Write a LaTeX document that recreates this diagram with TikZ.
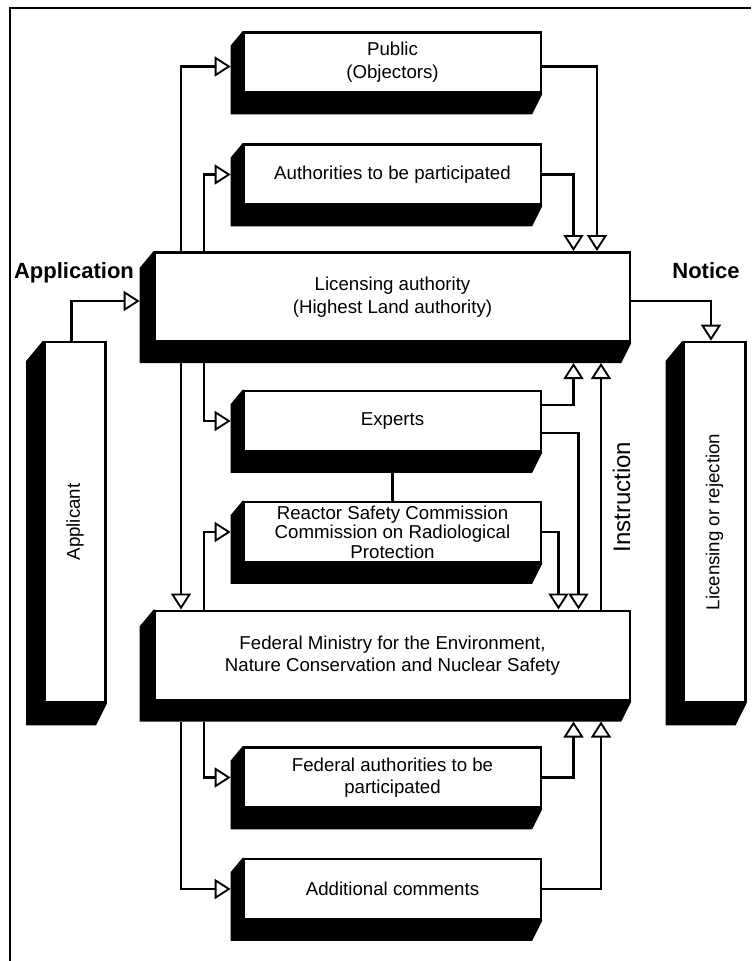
\documentclass[tikz,border=0pt]{standalone}
\usepackage{fontspec}
\setmainfont{Liberation Sans}
\usetikzlibrary{arrows.meta}
\usetikzlibrary{backgrounds}
\usetikzlibrary{calc}
\newcommand{\boxfont}{\fontsize{14}{17}\selectfont}
% shadow of a box: node, left depth, bottom depth
\newcommand{\shadowof}[3]{%
  \fill (#1.north west) -- ++(-#2,1.2*#2) -- ($(#1.south west)+(-#2,#3)$) -- ($(#1.south east)+(-0.5*#3,#3)$) -- (#1.south east) -- cycle;
  \coordinate (#1-l) at ($(#1.west)+(-#2,0)$);
  \coordinate (#1-b) at ($(#1.south)+(0,#3)$);
}

\begin{document}
\begin{tikzpicture}[x=0.75pt,y=0.75pt,yscale=-1,xscale=1,
  box/.style={draw, fill=white, line width=2pt, inner sep=0pt, align=center, font=\boxfont},
  smallbox/.style={box, minimum width=222.75pt, minimum height=45pt},
  widebox/.style={box, minimum width=356.25pt, minimum height=67pt},
  tallbox/.style={box, minimum width=46pt, minimum height=270pt},
  flow/.style={line width=2.1pt, -{Triangle[open, length=12pt, width=15pt, line width=1.4pt]}},
  link/.style={line width=2.1pt},
  heading/.style={font=\fontsize{16.5}{20}\selectfont\bfseries}]
\useasboundingbox (0,0) rectangle (751,961);

%Frame
\draw [line width=1.5pt] (9.5,961) -- (9.5,7.5) -- (751,7.5);

%Lanes for the connectors
\coordinate (laneL1) at (181,0);
\coordinate (laneL2) at (204,0);
\coordinate (laneR1) at (558.5,0);
\coordinate (laneR2) at (573.5,0);
\coordinate (laneR3) at (578.5,0);
\coordinate (laneR4) at (597,0);
\coordinate (laneR5) at (601,0);

% Boxes
\node [smallbox] (public) at (392.5,62.5) {Public\\(Objectors)};
\node [smallbox] (authp) at (392.5,174.5) {Authorities to be participated};
\node [widebox] (licensing) at (392.5,297) {Licensing authority\\(Highest Land authority)};
\node [tallbox] (applicant) at (75,522) {};
\node [tallbox] (decision) at (714.5,522) {};
\node [smallbox] (experts) at (392.5,421) {Experts};
\node [smallbox, font=\fontsize{14}{14.6}\selectfont] (rsk) at (392.5,532) {Reactor Safety Commission\\Commission on Radiological\\Protection};
\node [widebox] (bmu) at (392.5,655.5) {Federal Ministry for the Environment,\\Nature Conservation and Nuclear Safety};
\node [smallbox] (fedauth) at (392.5,777.5) {Federal authorities to be\\participated};
\node [smallbox] (comments) at (392.5,889) {Additional comments};

% Text Node
\node [rotate=90, font=\boxfont] (applicant-text) at (applicant) {Applicant};
\node [rotate=90, font=\boxfont] (decision-text) at (decision) {Licensing or rejection};
\node [heading] (application-text) at (74,273) {Application};
\node [heading] (notice-text) at (706,271) {Notice};
\node [rotate=90, font=\fontsize{18}{21}\selectfont] (instruction-text) at (621.5,497) {Instruction};

% Shadows
\begin{scope}[on background layer]
\shadowof{public}{12}{20.5}
\shadowof{authp}{12}{20.5}
\shadowof{licensing}{14}{20}
\shadowof{applicant}{17}{22}
\shadowof{decision}{17}{22}
\shadowof{experts}{12}{20.5}
\shadowof{rsk}{12}{20.5}
\shadowof{bmu}{14}{20}
\shadowof{fedauth}{12}{20.5}
\shadowof{comments}{12}{20.5}
\end{scope}

% Connectors
\draw [flow] ($(applicant.north)+(-3.3,0)$) |- ($(licensing-l)+(0,4)$);
\draw [flow] ($(licensing.east)+(0,4)$) -| ($(decision.north)+(-3.5,0)$);

\draw [flow] (laneL1 |- licensing.north) |- ($(public-l)+(0,4)$);
\draw [flow] (laneL2 |- licensing.north) |- (authp-l);
\draw [flow] ($(public.east)+(0,4)$) -| (laneR4 |- licensing.north);
\draw [flow] (authp.east) -| (laneR2 |- licensing.north);

\draw [flow] (laneL2 |- licensing-b) |- (experts-l);
\draw [flow] (laneL1 |- licensing-b) -- (laneL1 |- bmu.north);
\draw [flow] ($(experts.east)+(0,-16)$) -| (laneR2 |- licensing-b);
\draw [flow] ($(experts.east)+(0,12)$) -| (laneR3 |- bmu.north);
\draw [flow] (laneR5 |- bmu.north) -- (laneR5 |- licensing-b);
\draw [link] (experts-b) -- (rsk.north);

\draw [flow] (laneL2 |- bmu.north) |- (rsk-l);
\draw [flow] (rsk.east) -| (laneR1 |- bmu.north);

\draw [flow] (laneL2 |- bmu-b) |- (fedauth-l);
\draw [flow] (laneL1 |- bmu-b) |- (comments-l);
\draw [flow] (fedauth.east) -| (laneR2 |- bmu-b);
\draw [flow] (comments.east) -| (laneR5 |- bmu-b);

\end{tikzpicture}
\end{document}
